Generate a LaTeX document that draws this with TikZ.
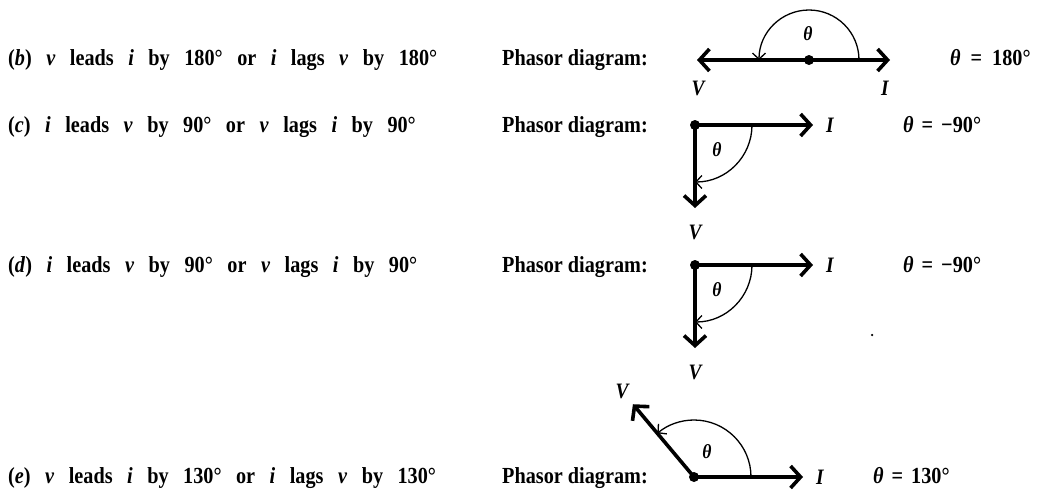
\documentclass[tikz,border=0pt]{standalone}
\usepackage{fontspec}
\setmainfont[FakeStretch=0.88]{Liberation Serif}
\usetikzlibrary{arrows.meta}
\newcommand\mywidespace{\spaceskip=14.5pt\relax}
\begin{document}
\begin{tikzpicture}[x=1pt,y=1pt,
 lefttxt/.style={anchor=base west, inner sep=0pt, font={\fontsize{23}{26}\selectfont\bfseries\mywidespace}},
 txt/.style={anchor=base west, inner sep=0pt, font=\fontsize{23}{26}\selectfont\bfseries},
 lbl/.style={inner sep=0pt, font=\fontsize{22}{24}\selectfont\bfseries\itshape},
 th/.style={inner sep=0pt, font=\fontsize{20}{22}\selectfont\bfseries\itshape},
 phasor/.style={line width=3.6pt, -{Straight Barb[length=10pt,width=22pt]}},
 anglearc/.style={line width=1.3pt, -{Straight Barb[length=6pt,width=13pt]}},
 hub/.style={circle, fill=black, inner sep=0pt, minimum size=10pt},
 speck/.style={circle, fill=black, inner sep=0pt, minimum size=2.5pt},
]
\useasboundingbox (0,0) rectangle (1045,-490);

% ---------- row (b)
\node[lefttxt] (lb) at (8,-65) {(\textit{b}) \textit{v} leads \textit{i} by 180° or \textit{i} lags \textit{v} by 180°};
\node[txt] (pb) at (502,-65) {Phasor diagram:};
\node[hub] (Ob) at (809,-60) {};
\coordinate (Vb) at (697,-60);
\coordinate (Ib) at (890,-60);
\draw[phasor] (Ob.center) -- (Vb);
\draw[phasor] (Ob.center) -- (Ib);
\draw[anglearc] ([shift={(0:50)}]Ob.center) arc[start angle=0,end angle=180,radius=50];
\node[th] (tb) at (808,-34) {θ};
\node[lbl] (Vlb) at (698,-88) {V};
\node[lbl] (Ilb) at (885,-88) {I};
\node[txt] (eb) at (950,-65) {\textit{θ}\hspace{10pt}=\hspace{10pt}180°};

% ---------- row (c)
\node[lefttxt] (lc) at (8,-132) {(\textit{c}) \textit{i} leads \textit{v} by 90° or \textit{v} lags \textit{i} by 90°};
\node[txt] (pc) at (502,-132) {Phasor diagram:};
\node[hub] (Oc) at (695,-125) {};
\coordinate (Ic) at (813,-125);
\coordinate (Vc) at (695,-208);
\draw[phasor] (Oc.center) -- (Ic);
\draw[phasor] (Oc.center) -- (Vc);
\draw[anglearc] ([shift={(0:57)}]Oc.center) arc[start angle=0,end angle=-90,radius=57];
\node[th] (tc) at (717,-150) {θ};
\node[lbl] (Vlc) at (695,-232) {V};
\node[lbl] (Ilc) at (830,-125) {I};
\node[txt] (ec) at (903,-132) {\textit{θ}\hspace{8pt}=\hspace{8pt}−90°};

% ---------- row (d)
\node[lefttxt] (ld) at (8,-272) {(\textit{d}) \textit{i} leads \textit{v} by 90° or \textit{v} lags \textit{i} by 90°};
\node[txt] (pd) at (502,-272) {Phasor diagram:};
\node[hub] (Od) at (695,-265) {};
\coordinate (Id) at (813,-265);
\coordinate (Vd) at (695,-348);
\draw[phasor] (Od.center) -- (Id);
\draw[phasor] (Od.center) -- (Vd);
\draw[anglearc] ([shift={(0:57)}]Od.center) arc[start angle=0,end angle=-90,radius=57];
\node[th] (td) at (717,-290) {θ};
\node[lbl] (Vld) at (695,-372) {V};
\node[lbl] (Ild) at (830,-265) {I};
\node[txt] (ed) at (903,-272) {\textit{θ}\hspace{8pt}=\hspace{8pt}−90°};
\node[speck] (sd) at (872,-335) {};

% ---------- row (e)
\node[lefttxt] (le) at (8,-483) {(\textit{e}) \textit{v} leads \textit{i} by 130° or \textit{i} lags \textit{v} by 130°};
\node[txt] (pe) at (502,-483) {Phasor diagram:};
\node[hub] (Oe) at (694,-477) {};
\coordinate (Ie) at (803,-477);
\coordinate (Ve) at ([shift={(130:95)}]Oe.center);
\draw[phasor] (Oe.center) -- (Ie);
\draw[phasor] (Oe.center) -- (Ve);
\draw[anglearc] ([shift={(0:57)}]Oe.center) arc[start angle=0,end angle=130,radius=57];
\node[th] (te) at (707,-452) {θ};
\node[lbl] (Vle) at (622,-391) {V};
\node[lbl] (Ile) at (820,-477) {I};
\node[txt] (ee) at (873,-483) {\textit{θ}\hspace{8pt}=\hspace{8pt}130°};
\end{tikzpicture}
\end{document}
